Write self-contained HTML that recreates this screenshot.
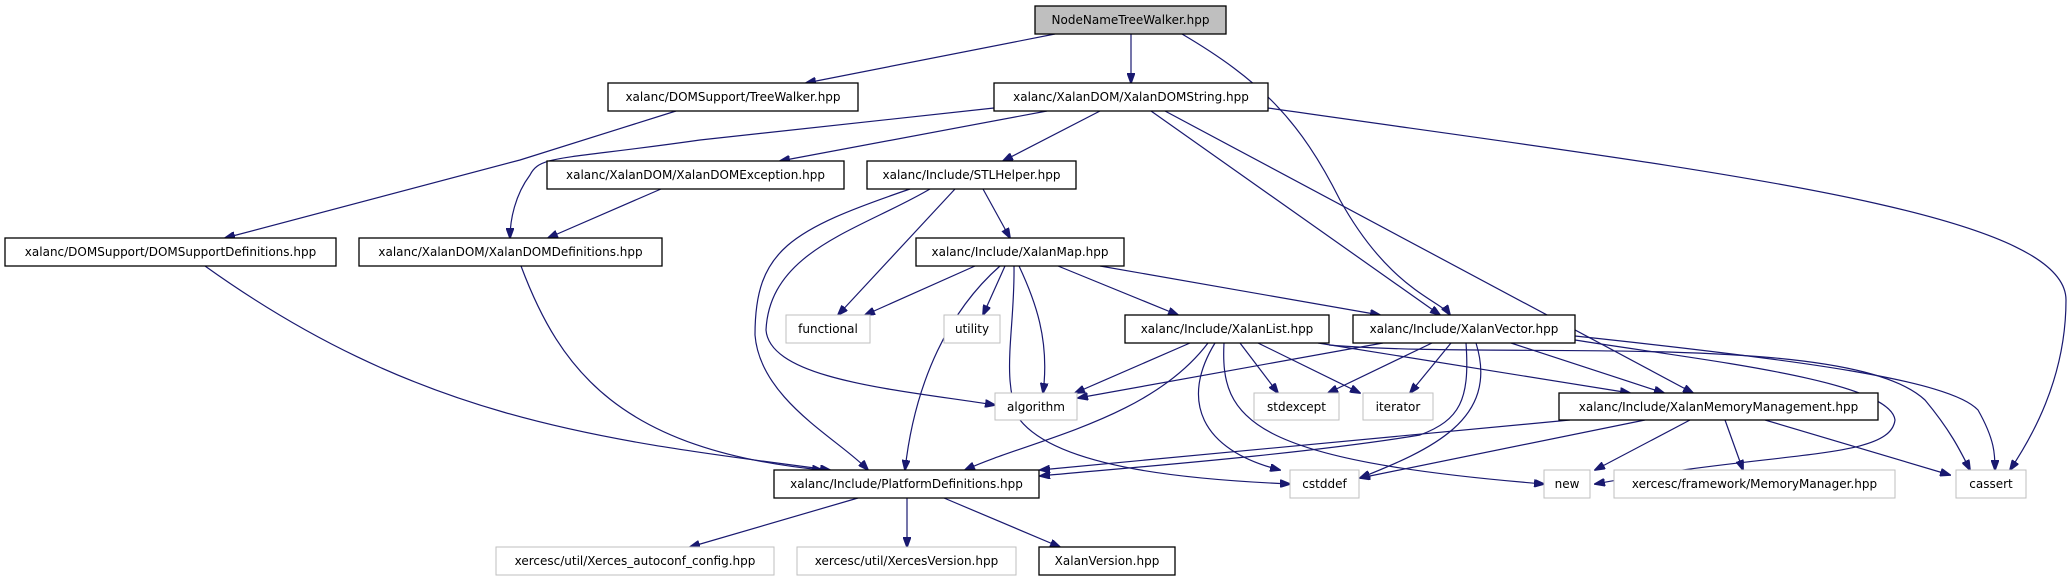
<!DOCTYPE html>
<html><head><meta charset="utf-8"><style>
html,body{margin:0;padding:0;background:#fff;}
svg{display:block;}
text{font-family:"DejaVu Sans","Liberation Sans",sans-serif;font-size:12px;fill:#000;}
.e{fill:none;stroke:#191970;stroke-width:1.2;}
.b{fill:#fff;stroke:#000;stroke-width:1.3;}
.g{fill:#fff;stroke:#bfbfbf;stroke-width:1;}
</style></head><body>
<svg width="2069" height="581" viewBox="0 0 2069 581" xmlns="http://www.w3.org/2000/svg">
<defs><marker id="a" markerWidth="11" markerHeight="8" refX="10" refY="4" orient="auto" markerUnits="userSpaceOnUse"><path d="M0,0 L11,4 L0,8 z" fill="#191970" stroke="#191970"/></marker></defs>
<g marker-end="url(#a)">
<path class="e" d="M1055,34 L806,83"/>
<path class="e" d="M1131,34 L1131,83"/>
<path class="e" d="M1182,34 C1260,80 1300,120 1340,200 C1390,290 1440,300 1450,315"/>
<path class="e" d="M676,111 L520,160 L225,238"/>
<path class="e" d="M994,108 L700,140 C560,160 540,155 530,175 C515,195 510,220 510,238"/>
<path class="e" d="M1047,111 L780,161"/>
<path class="e" d="M1100,111 L1003,161"/>
<path class="e" d="M1151,111 L1440,315"/>
<path class="e" d="M1165,111 L1693,393"/>
<path class="e" d="M1268,108 C1700,170 2066,210 2066,300 C2066,380 2030,440 2010,470"/>
<path class="e" d="M661,189 L548,238"/>
<path class="e" d="M205,266 C420,420 600,440 830,470"/>
<path class="e" d="M521,266 C560,370 620,450 822,470"/>
<path class="e" d="M983,189 L1010,238"/>
<path class="e" d="M955,189 L838,315"/>
<path class="e" d="M930,189 C860,230 770,250 766,330 C770,380 900,390 995,405"/>
<path class="e" d="M910,189 C790,230 755,250 755,335 C760,400 840,440 868,470"/>
<path class="e" d="M975,266 L865,315"/>
<path class="e" d="M1005,266 L983,315"/>
<path class="e" d="M1019,266 C1035,300 1050,340 1043,393"/>
<path class="e" d="M1000,266 C950,310 915,380 905,470"/>
<path class="e" d="M1014,266 C1015,330 1000,380 1020,420 C1060,470 1200,480 1290,484"/>
<path class="e" d="M1058,266 L1178,315"/>
<path class="e" d="M1100,266 L1380,315"/>
<path class="e" d="M1190,343 L1075,393"/>
<path class="e" d="M1208,343 C1150,420 1030,440 965,470"/>
<path class="e" d="M1215,343 C1180,400 1200,450 1280,470"/>
<path class="e" d="M1224,343 C1220,420 1250,460 1544,484"/>
<path class="e" d="M1240,343 L1278,393"/>
<path class="e" d="M1258,343 L1360,393"/>
<path class="e" d="M1318,343 L1630,393"/>
<path class="e" d="M1329,345 C1500,360 1850,330 1925,400 C1950,430 1960,450 1970,470"/>
<path class="e" d="M1383,343 L1078,398"/>
<path class="e" d="M1432,343 L1328,393"/>
<path class="e" d="M1451,343 L1410,393"/>
<path class="e" d="M1466,343 C1470,400 1460,420 1420,435 C1300,455 1100,470 1040,476"/>
<path class="e" d="M1476,343 C1500,420 1430,450 1360,478"/>
<path class="e" d="M1511,343 L1664,393"/>
<path class="e" d="M1575,340 C1700,360 1890,380 1895,420 C1890,460 1780,450 1595,484"/>
<path class="e" d="M1575,336 C1800,360 1950,380 1978,410 C1995,440 1995,455 1995,470"/>
<path class="e" d="M1570,420 L1040,470"/>
<path class="e" d="M1645,420 L1360,478"/>
<path class="e" d="M1690,420 L1595,470"/>
<path class="e" d="M1725,420 L1743,470"/>
<path class="e" d="M1765,420 L1950,475"/>
<path class="e" d="M858,498 L690,547"/>
<path class="e" d="M907,498 L907,547"/>
<path class="e" d="M944,498 L1060,547"/>
</g>
<rect x="1035" y="6" width="191" height="28" fill="#bfbfbf" stroke="#000" stroke-width="1.3"/><text x="1130.5" y="24" text-anchor="middle">NodeNameTreeWalker.hpp</text>
<rect class="b" x="608" y="83" width="250" height="28"/><text x="733" y="101" text-anchor="middle">xalanc/DOMSupport/TreeWalker.hpp</text>
<rect class="b" x="994" y="83" width="274" height="28"/><text x="1131" y="101" text-anchor="middle">xalanc/XalanDOM/XalanDOMString.hpp</text>
<rect class="b" x="547" y="161" width="297" height="28"/><text x="695.5" y="179" text-anchor="middle">xalanc/XalanDOM/XalanDOMException.hpp</text>
<rect class="b" x="867" y="161" width="209" height="28"/><text x="971.5" y="179" text-anchor="middle">xalanc/Include/STLHelper.hpp</text>
<rect class="b" x="5" y="238" width="331" height="28"/><text x="170.5" y="256" text-anchor="middle">xalanc/DOMSupport/DOMSupportDefinitions.hpp</text>
<rect class="b" x="359" y="238" width="303" height="28"/><text x="510.5" y="256" text-anchor="middle">xalanc/XalanDOM/XalanDOMDefinitions.hpp</text>
<rect class="b" x="916" y="238" width="208" height="28"/><text x="1020" y="256" text-anchor="middle">xalanc/Include/XalanMap.hpp</text>
<rect class="g" x="786" y="315" width="84" height="28"/><text x="828" y="333" text-anchor="middle">functional</text>
<rect class="g" x="944" y="315" width="56" height="28"/><text x="972" y="333" text-anchor="middle">utility</text>
<rect class="b" x="1125" y="315" width="204" height="28"/><text x="1227" y="333" text-anchor="middle">xalanc/Include/XalanList.hpp</text>
<rect class="b" x="1353" y="315" width="222" height="28"/><text x="1464" y="333" text-anchor="middle">xalanc/Include/XalanVector.hpp</text>
<rect class="g" x="995" y="393" width="82" height="27"/><text x="1036" y="411" text-anchor="middle">algorithm</text>
<rect class="g" x="1254" y="393" width="85" height="27"/><text x="1296.5" y="411" text-anchor="middle">stdexcept</text>
<rect class="g" x="1363" y="393" width="70" height="27"/><text x="1398" y="411" text-anchor="middle">iterator</text>
<rect class="b" x="1559" y="393" width="319" height="27"/><text x="1718.5" y="411" text-anchor="middle">xalanc/Include/XalanMemoryManagement.hpp</text>
<rect class="b" x="774" y="470" width="265" height="28"/><text x="906.5" y="488" text-anchor="middle">xalanc/Include/PlatformDefinitions.hpp</text>
<rect class="g" x="1290" y="470" width="69" height="28"/><text x="1324.5" y="488" text-anchor="middle">cstddef</text>
<rect class="g" x="1544" y="470" width="46" height="28"/><text x="1567" y="488" text-anchor="middle">new</text>
<rect class="g" x="1614" y="470" width="281" height="28"/><text x="1754.5" y="488" text-anchor="middle">xercesc/framework/MemoryManager.hpp</text>
<rect class="g" x="1956" y="470" width="70" height="28"/><text x="1991" y="488" text-anchor="middle">cassert</text>
<rect class="g" x="496" y="547" width="278" height="28"/><text x="635" y="565" text-anchor="middle">xercesc/util/Xerces_autoconf_config.hpp</text>
<rect class="g" x="797" y="547" width="219" height="28"/><text x="906.5" y="565" text-anchor="middle">xercesc/util/XercesVersion.hpp</text>
<rect class="b" x="1039" y="547" width="136" height="28"/><text x="1107" y="565" text-anchor="middle">XalanVersion.hpp</text>
</svg>
</body></html>
